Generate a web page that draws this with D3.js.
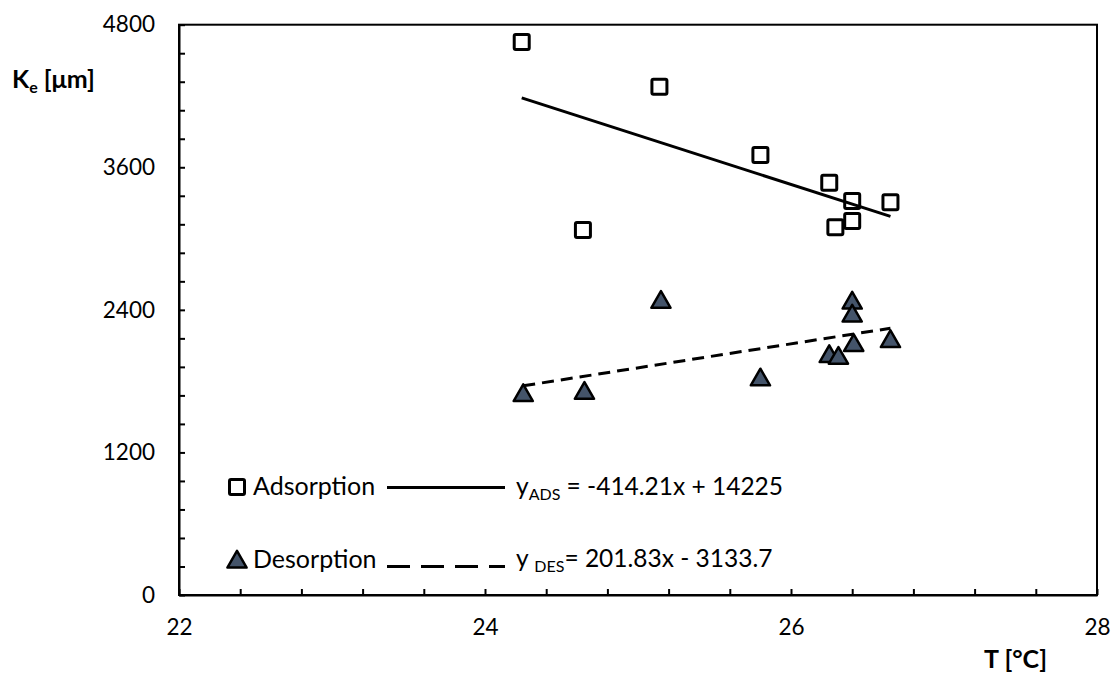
<!DOCTYPE html>
<html>
<head>
<meta charset="utf-8">
<script src="https://cdn.jsdelivr.net/npm/d3@7"></script>
<style>
  html, body { margin: 0; padding: 0; background: #fff; }
  svg { display: block; font-family: Lato, "Open Sans", sans-serif; }
</style>
</head>
<body>
<svg id="chart" width="1113" height="675"></svg>
<script>
// Equilibrium coefficient K_e vs temperature, adsorption and desorption runs
const adsT = [24.24, 25.14, 24.64, 25.80, 26.25, 26.40, 26.65, 26.29, 26.40];
const adsK = [4655, 4278, 3072, 3703, 3470, 3316, 3305, 3095, 3148];

const desT = [24.25, 24.65, 25.15, 25.80, 26.25, 26.31, 26.41, 26.65, 26.40, 26.40];
const desK = [1692, 1711, 2477, 1824, 2020, 2006, 2113, 2146, 2470, 2361];

// Linear fits (slope, intercept)
const adsFit = [-414.21, 14225];
const desFit = [201.83, -3133.7];

const xTicks = [22, 22.4, 22.8, 23.2, 23.6, 24, 24.4, 24.8, 25.2, 25.6, 26, 26.4, 26.8, 27.2, 27.6, 28];
const xLabels = [22, 24, 26, 28];
const yTicks = d3.range(0, 4801, 240);
const yLabels = [0, 1200, 2400, 3600, 4800];

const svg = d3.select("#chart");
const plotLeft = 179, plotRight = 1097, plotTop = 24.7, plotBottom = 595;

const x = d3.scaleLinear().domain([22, 28]).range([plotLeft, plotRight]);
const y = d3.scaleLinear().domain([0, 4800]).range([plotBottom, plotTop]);

// Axes with inward-pointing ticks
const xAxis = d3.axisBottom(x)
  .tickValues(xTicks)
  .tickSize(-6)
  .tickSizeOuter(0)
  .tickPadding(24)
  .tickFormat(d => xLabels.some(v => Math.abs(v - d) < 1e-9) ? d3.format("d")(d) : "");

const yAxis = d3.axisLeft(y)
  .tickValues(yTicks)
  .tickSize(-6)
  .tickSizeOuter(0)
  .tickPadding(24)
  .tickFormat(d => yLabels.includes(d) ? d : "");

const gx = svg.append("g").attr("transform", `translate(0,${plotBottom})`).call(xAxis);
const gy = svg.append("g").attr("transform", `translate(${plotLeft},0)`).call(yAxis);

[gx, gy].forEach(g => {
  g.selectAll("path, line").attr("stroke", "#000").attr("stroke-width", 2);
  g.selectAll("text").attr("font-size", 22.5).attr("fill", "#000")
    .attr("font-family", "Lato, 'Open Sans', sans-serif");
});

// Plot frame
svg.append("rect")
  .attr("x", plotLeft).attr("y", plotTop)
  .attr("width", plotRight - plotLeft).attr("height", plotBottom - plotTop)
  .attr("fill", "none").attr("stroke", "#000").attr("stroke-width", 2);

// Trend lines over the measured range
function fitLine(fit, ts) {
  const ext = d3.extent(ts);
  return ext.map(t => [x(t), y(fit[0] * t + fit[1])]);
}
const line = d3.line();
svg.append("path")
  .attr("d", line(fitLine(adsFit, adsT)))
  .attr("stroke", "#000").attr("stroke-width", 3).attr("fill", "none");
svg.append("path")
  .attr("d", line(fitLine(desFit, desT)))
  .attr("stroke", "#000").attr("stroke-width", 3).attr("fill", "none")
  .attr("stroke-dasharray", "12,7");

// Markers
const sq = 15;
const triSym = d3.symbol().type(d3.symbolTriangle).size(160);

svg.append("g").selectAll("path")
  .data(desT.map((t, i) => [t, desK[i]]))
  .join("path")
  .attr("d", triSym)
  .attr("transform", d => `translate(${x(d[0])},${y(d[1]) + 1.5})`)
  .attr("fill", "#44546A").attr("stroke", "#000").attr("stroke-width", 2.5)
  .attr("stroke-linejoin", "round");

svg.append("g").selectAll("rect")
  .data(adsT.map((t, i) => [t, adsK[i]]))
  .join("rect")
  .attr("x", d => x(d[0]) - sq / 2)
  .attr("y", d => y(d[1]) - sq / 2)
  .attr("width", sq).attr("height", sq).attr("rx", 1.5)
  .attr("fill", "none").attr("stroke", "#000").attr("stroke-width", 3);

// Axis titles
const yTitle = svg.append("text")
  .attr("x", 12).attr("y", 88)
  .attr("font-size", 25).attr("font-weight", "bold").attr("fill", "#000");
yTitle.append("tspan").text("K");
yTitle.append("tspan").attr("font-size", 16).attr("dy", 5).text("e");
yTitle.append("tspan").attr("dy", -5).text(" [\u03bcm]");

svg.append("text")
  .attr("x", 1047).attr("y", 668).attr("text-anchor", "end")
  .attr("font-size", 25).attr("font-weight", "bold").attr("fill", "#000")
  .text("T [\u00b0C]");

// Legend
const lg = svg.append("g");
lg.append("rect")
  .attr("x", 237 - 7.5).attr("y", 487 - 7.5).attr("width", 15).attr("height", 15).attr("rx", 1.5)
  .attr("fill", "none").attr("stroke", "#000").attr("stroke-width", 3);
lg.append("path")
  .attr("d", triSym)
  .attr("transform", "translate(237,562)")
  .attr("fill", "#44546A").attr("stroke", "#000").attr("stroke-width", 2.5)
  .attr("stroke-linejoin", "round");
lg.append("text").attr("x", 253).attr("y", 495).attr("font-size", 25).attr("fill", "#000").text("Adsorption");
lg.append("text").attr("x", 253).attr("y", 568).attr("font-size", 25).attr("fill", "#000").text("Desorption");
lg.append("line").attr("x1", 387).attr("x2", 505).attr("y1", 487.5).attr("y2", 487.5)
  .attr("stroke", "#000").attr("stroke-width", 3);
lg.append("line").attr("x1", 387).attr("x2", 505).attr("y1", 566.5).attr("y2", 566.5)
  .attr("stroke", "#000").attr("stroke-width", 3).attr("stroke-dasharray", "23,11");

const fmtEq = (fit) => {
  const s = fit[0].toFixed(2);
  const b = Math.abs(fit[1]);
  return { s, b, sign: fit[1] < 0 ? "-" : "+" };
};
const e1 = fmtEq(adsFit), e2 = fmtEq(desFit);

const eq1 = lg.append("text").attr("x", 516).attr("y", 495).attr("font-size", 24.5).attr("fill", "#000");
eq1.append("tspan").text("y");
eq1.append("tspan").attr("font-size", 16).attr("dy", 5).text("ADS");
eq1.append("tspan").attr("dy", -5).text(` = ${e1.s}x ${e1.sign} ${e1.b}`);

const eq2 = lg.append("text").attr("x", 516).attr("y", 567).attr("font-size", 24.5).attr("fill", "#000");
eq2.append("tspan").text("y ");
eq2.append("tspan").attr("font-size", 16).attr("dy", 5).text("DES");
eq2.append("tspan").attr("dy", -5).text(`= ${e2.s}x ${e2.sign} ${e2.b}`);
</script>
</body>
</html>
